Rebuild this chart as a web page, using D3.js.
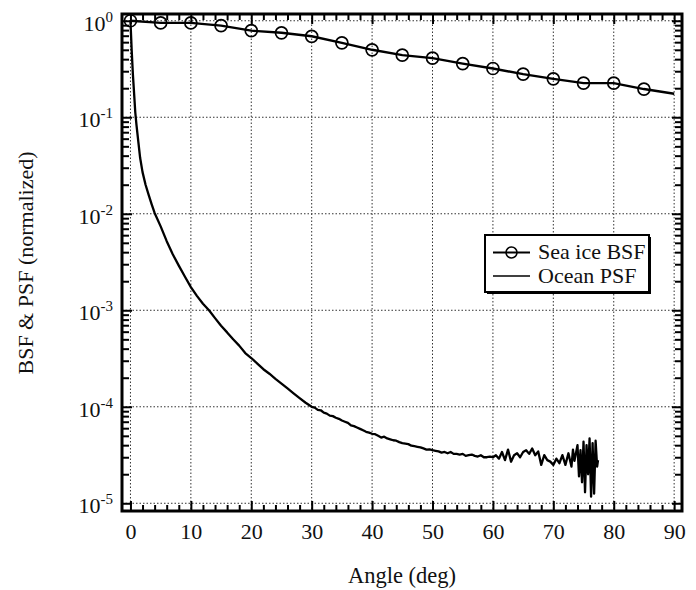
<!DOCTYPE html>
<html>
<head>
<meta charset="utf-8">
<script src="https://cdn.jsdelivr.net/npm/d3@7"></script>
<style>
  body { margin: 0; background: #fff; }
  svg { display: block; }
  text { font-family: 'Liberation Serif', 'Times New Roman', serif; fill: #111; }
</style>
</head>
<body>
<div id="chart"></div>
<script>
// Sea ice BSF (circles every 5 deg, line runs to 90)
const bsfAngles = [0, 5, 10, 15, 20, 25, 30, 35, 40, 45, 50, 55, 60, 65, 70, 75, 80, 85, 90];
const bsfValues = [1.0, 0.95, 0.95, 0.89, 0.79, 0.75, 0.69, 0.59, 0.50, 0.44, 0.41, 0.36, 0.32, 0.28, 0.25, 0.226, 0.226, 0.196, 0.175];

// Ocean PSF, [angle, value]
const oceanPsf = [
  [0, 1.0], [0.2, 0.5], [0.4, 0.28], [0.6, 0.178], [0.8, 0.112], [1.0, 0.083], [1.3, 0.056],
  [1.6, 0.038], [2.0, 0.027], [2.5, 0.020], [3.0, 0.0158], [3.5, 0.0126], [4.0, 0.0102],
  [5, 7.4e-3], [6, 5.2e-3], [7, 3.8e-3], [8, 2.9e-3], [9, 2.24e-3], [10, 1.74e-3],
  [11, 1.41e-3], [12, 1.17e-3], [13, 1.0e-3], [14, 8.3e-4], [15, 6.9e-4], [16, 5.9e-4],
  [17, 5.0e-4], [18, 4.3e-4], [19, 3.6e-4], [20, 3.2e-4], [21, 2.8e-4], [22, 2.45e-4],
  [23, 2.2e-4], [24, 1.95e-4], [25, 1.74e-4], [26, 1.55e-4], [27, 1.38e-4], [28, 1.23e-4],
  [29, 1.10e-4], [30, 1.0e-4], [30.5, 9.8e-5], [31, 9.3e-5], [31.5, 9.2e-5], [32, 8.7e-5],
  [32.5, 8.5e-5], [33, 8.1e-5], [33.5, 8.0e-5], [34, 7.7e-5], [34.5, 7.5e-5], [35, 7.2e-5],
  [35.5, 7.0e-5], [36, 6.8e-5], [36.5, 6.4e-5], [37, 6.3e-5], [37.5, 6.1e-5], [38, 5.9e-5],
  [38.5, 5.7e-5], [39, 5.5e-5], [39.5, 5.4e-5], [40, 5.25e-5], [40.5, 5.2e-5], [41, 5.0e-5],
  [41.5, 4.8e-5], [42, 4.9e-5], [42.5, 4.7e-5], [43, 4.6e-5], [43.5, 4.5e-5], [44, 4.45e-5],
  [44.5, 4.3e-5], [45, 4.2e-5], [45.5, 4.15e-5], [46, 4.1e-5], [46.5, 3.95e-5], [47, 3.9e-5],
  [47.5, 3.85e-5], [48, 3.8e-5], [48.5, 3.7e-5], [49, 3.6e-5], [49.5, 3.62e-5], [50, 3.55e-5],
  [50.5, 3.5e-5], [51, 3.45e-5], [51.5, 3.35e-5], [52, 3.4e-5], [52.5, 3.3e-5], [53, 3.4e-5],
  [53.5, 3.25e-5], [54, 3.25e-5], [54.5, 3.2e-5], [55, 3.25e-5], [55.5, 3.1e-5], [56, 3.15e-5],
  [56.5, 3.2e-5], [57, 3.1e-5], [57.5, 3.05e-5], [58, 3.15e-5], [58.5, 3.0e-5], [59, 3.0e-5],
  [59.5, 3.05e-5], [60, 3.0e-5], [60.5, 3.15e-5], [61, 2.9e-5], [61.5, 3.4e-5], [62, 2.8e-5],
  [62.5, 3.6e-5], [63, 2.7e-5], [63.5, 3.15e-5], [64, 3.3e-5], [64.5, 3.0e-5], [65, 3.4e-5],
  [65.5, 3.55e-5], [66, 3.25e-5], [66.5, 3.7e-5], [67, 3.15e-5], [67.5, 3.45e-5], [68, 2.5e-5],
  [68.5, 3.15e-5], [69, 2.8e-5], [69.5, 2.7e-5], [70, 2.5e-5], [70.5, 2.9e-5], [71, 2.6e-5],
  [71.5, 3.15e-5], [72, 2.5e-5], [72.5, 3.3e-5], [73, 2.4e-5], [73.25, 3.6e-5], [73.5, 2.75e-5],
  [74, 4.0e-5], [74.25, 1.9e-5], [74.5, 3.55e-5], [74.75, 1.65e-5], [75, 4.35e-5], [75.25, 1.3e-5],
  [75.5, 4.0e-5], [75.75, 2.0e-5], [76, 4.7e-5], [76.25, 1.17e-5], [76.5, 4.2e-5], [76.75, 1.26e-5],
  [77, 4.45e-5], [77.25, 2.4e-5], [77.4, 2.8e-5]
];

const xMajor = [0, 10, 20, 30, 40, 50, 60, 70, 80, 90];
const xMinor = [2, 4, 6, 8, 12, 14, 16, 18, 22, 24, 26, 28, 32, 34, 36, 38, 42, 44, 46, 48,
  52, 54, 56, 58, 62, 64, 66, 68, 72, 74, 76, 78, 82, 84, 86, 88];
const yMajor = [1e-5, 1e-4, 1e-3, 1e-2, 1e-1, 1];
const legendLabels = ['Sea ice BSF', 'Ocean PSF'];

const W = 696, H = 590;
const PLOT = { LEFT: 122, RIGHT: 682, TOP: 14, BOTTOM: 511 };

const svg = d3.select('#chart').append('svg')
  .attr('width', W).attr('height', H);

const x = d3.scaleLinear().domain([-1.4, 91.3]).range([PLOT.LEFT, PLOT.RIGHT]);
const y = d3.scaleLog().domain([Math.pow(10, -5.08), Math.pow(10, 0.07)]).range([PLOT.BOTTOM, PLOT.TOP]);

// minor ticks for the log axis: 2..9 in every decade
const yMinor = [];
yMajor.slice(0, -1).forEach((d) => {
  for (let k = 2; k <= 9; k++) yMinor.push(k * d);
});

// dotted grid
const grid = svg.append('g').attr('stroke', '#333').attr('stroke-width', 1).attr('stroke-dasharray', '1.5,2');
grid.selectAll('.vg').data(xMajor).join('line')
  .attr('x1', (d) => x(d)).attr('x2', (d) => x(d))
  .attr('y1', PLOT.TOP).attr('y2', PLOT.BOTTOM);
grid.selectAll('.hg').data(yMajor).join('line')
  .attr('x1', PLOT.LEFT).attr('x2', PLOT.RIGHT)
  .attr('y1', (d) => y(d)).attr('y2', (d) => y(d));

// axes, ticks pointing inward
function tickAxis(axis, transform) {
  const g = svg.append('g').attr('transform', transform).call(axis);
  g.select('.domain').remove();
  g.selectAll('.tick line').attr('stroke', '#000').attr('stroke-width', 2);
  return g;
}

const bottom = tickAxis(d3.axisBottom(x).tickValues(xMajor).tickSizeInner(-10).tickSizeOuter(0).tickPadding(12),
  `translate(0,${PLOT.BOTTOM})`);
bottom.selectAll('.tick text').attr('font-size', 22).attr('font-family', "'Liberation Serif', serif").attr('fill', '#111');
tickAxis(d3.axisBottom(x).tickValues(xMinor).tickSizeInner(-6).tickSizeOuter(0).tickFormat(''),
  `translate(0,${PLOT.BOTTOM})`);
tickAxis(d3.axisTop(x).tickValues(xMajor).tickSizeInner(-10).tickSizeOuter(0).tickFormat(''),
  `translate(0,${PLOT.TOP})`);
tickAxis(d3.axisTop(x).tickValues(xMinor).tickSizeInner(-6).tickSizeOuter(0).tickFormat(''),
  `translate(0,${PLOT.TOP})`);

const left = tickAxis(d3.axisLeft(y).tickValues(yMajor).tickSizeInner(-10).tickSizeOuter(0).tickPadding(9),
  `translate(${PLOT.LEFT},0)`);
left.selectAll('.tick text')
  .attr('font-size', 22).attr('font-family', "'Liberation Serif', serif").attr('fill', '#111')
  .attr('dy', '0.42em')
  .each(function (d) {
    const t = d3.select(this);
    const e = Math.round(Math.log10(d));
    t.text('');
    t.append('tspan').text('10');
    t.append('tspan').attr('dy', '-0.6em').attr('font-size', 15).text(String(e));
  });
tickAxis(d3.axisLeft(y).tickValues(yMinor).tickSizeInner(-7).tickSizeOuter(0).tickFormat(''),
  `translate(${PLOT.LEFT},0)`);
tickAxis(d3.axisRight(y).tickValues(yMajor).tickSizeInner(-10).tickSizeOuter(0).tickFormat(''),
  `translate(${PLOT.RIGHT},0)`);
tickAxis(d3.axisRight(y).tickValues(yMinor).tickSizeInner(-7).tickSizeOuter(0).tickFormat(''),
  `translate(${PLOT.RIGHT},0)`);

// frame
svg.append('rect')
  .attr('x', PLOT.LEFT).attr('y', PLOT.TOP)
  .attr('width', PLOT.RIGHT - PLOT.LEFT).attr('height', PLOT.BOTTOM - PLOT.TOP)
  .attr('fill', 'none').attr('stroke', '#000').attr('stroke-width', 3);

// series
const bsf = bsfAngles.map((a, i) => ({ angle: a, value: bsfValues[i] }));
const line = d3.line().x((d) => x(d.angle)).y((d) => y(d.value));

svg.append('path')
  .datum(oceanPsf.map((d) => ({ angle: d[0], value: d[1] })))
  .attr('d', line)
  .attr('fill', 'none').attr('stroke', '#000').attr('stroke-width', 2.3).attr('stroke-linejoin', 'round');

svg.append('path')
  .datum(bsf)
  .attr('d', line)
  .attr('fill', 'none').attr('stroke', '#000').attr('stroke-width', 2.4);

svg.append('g').selectAll('circle')
  .data(bsf.filter((d) => d.angle < 90))
  .join('circle')
  .attr('cx', (d) => x(d.angle)).attr('cy', (d) => y(d.value))
  .attr('r', 6)
  .attr('fill', 'none').attr('stroke', '#000').attr('stroke-width', 1.7);

// legend
const lg = svg.append('g').attr('transform', 'translate(485,235)');
lg.append('rect').attr('x', 2).attr('y', 2).attr('width', 164).attr('height', 57).attr('fill', '#000');
lg.append('rect').attr('width', 164).attr('height', 57).attr('fill', '#fff').attr('stroke', '#000').attr('stroke-width', 2);
legendLabels.forEach((lab, i) => {
  const ly = 17.5 + i * 23.5;
  lg.append('line').attr('x1', 8).attr('x2', 45).attr('y1', ly).attr('y2', ly)
    .attr('stroke', '#000').attr('stroke-width', i === 0 ? 2 : 1.5);
  if (i === 0) {
    lg.append('circle').attr('cx', 26.5).attr('cy', ly).attr('r', 5.5)
      .attr('fill', 'none').attr('stroke', '#000').attr('stroke-width', 1.5);
  }
  lg.append('text').attr('x', 53).attr('y', ly + 6.5).attr('font-size', 22).text(lab);
});

// axis titles
svg.append('text')
  .attr('x', (PLOT.LEFT + PLOT.RIGHT) / 2).attr('y', 583)
  .attr('text-anchor', 'middle').attr('font-size', 22.5)
  .text('Angle (deg)');

svg.append('text')
  .attr('transform', 'translate(33,263) rotate(-90)')
  .attr('text-anchor', 'middle').attr('font-size', 22)
  .text('BSF & PSF (normalized)');
</script>
</body>
</html>
